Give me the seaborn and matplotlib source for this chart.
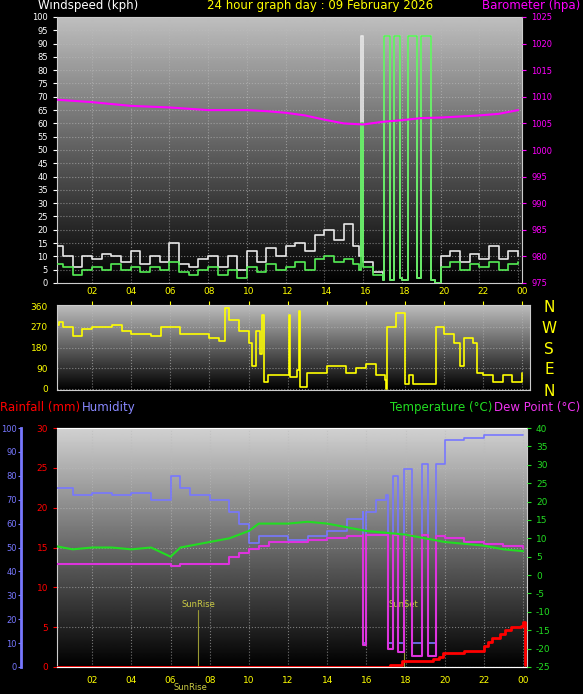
import numpy as np
import matplotlib
matplotlib.use("Agg")
import matplotlib.pyplot as plt
import seaborn as sns

# ---------------- data ----------------
hrs = [0, 0.5, 1, 1.5, 2, 2.5, 3, 3.5, 4, 4.5, 5, 5.5, 6, 6.5, 7, 7.5, 8, 8.5, 9, 9.5,
       10, 10.5, 11, 11.5, 12, 12.5, 13, 13.5, 14, 14.5, 15, 15.5]
wind_avg = [7, 6, 3, 5, 6, 5, 7, 5, 6, 4, 6, 5, 8, 4, 3, 5, 6, 3, 5, 2,
            6, 4, 7, 5, 6, 8, 5, 9, 10, 8, 9, 7]
wind_gust = [14, 10, 6, 10, 9, 11, 10, 8, 12, 7, 10, 8, 15, 7, 6, 9, 10, 6, 10, 5,
             12, 8, 13, 10, 14, 15, 12, 18, 20, 16, 22, 14]
# spike section (step data)
hrs_spk = [15.8, 15.9, 16.0, 16.5, 17.0, 17.1, 17.4, 17.6, 17.9, 18.0, 18.3, 18.8, 19.0, 19.5, 19.7,
           20.0, 20.5, 21, 21.5, 22, 22.5, 23, 23.5, 24]
avg_spk = [5, 60, 6, 3, 1, 93, 1, 93, 2, 1, 93, 2, 93, 1, 0, 6, 8, 5, 7, 6, 8, 5, 7, 8]
gust_spk = [10, 93, 8, 4, 1, 93, 1, 93, 2, 1, 93, 2, 93, 1, 0, 10, 12, 8, 11, 9, 14, 9, 12, 10]

baro_hrs = [0, 2, 4, 6, 8, 10, 11, 12, 13, 14, 15, 16, 17, 18, 19, 20, 21, 22, 23, 24]
baro = [1009.5, 1009, 1008.3, 1008, 1007.5, 1007.5, 1007.3, 1007, 1006.5, 1005.7, 1005, 1004.8,
        1005.3, 1005.6, 1006, 1006.1, 1006.3, 1006.5, 1006.8, 1007.5]

dir_hrs = [0, 0.3, 0.5, 1, 1.5, 2, 3, 3.5, 4, 5, 5.5, 6, 6.5, 7, 8, 8.5, 8.8, 9, 9.5, 10, 10.2,
           10.4, 10.6, 10.7, 10.8, 11, 12, 12.05, 12.1, 12.5, 12.6, 12.65, 13, 14, 15, 15.5,
           16, 16.5, 17, 17.05, 17.1, 17.5, 17.55, 18, 18.2, 18.4, 19.5, 19.6, 20, 20.5, 20.8,
           21, 21.5, 21.7, 22, 22.5, 23, 23.5, 24]
direction = [280, 290, 270, 230, 260, 270, 280, 250, 240, 230, 270, 270, 240, 240, 220, 210,
             350, 300, 250, 200, 100, 250, 150, 320, 30, 60, 60, 320, 50, 80, 340, 10, 70, 100,
             70, 90, 110, 60, 40, 0, 270, 270, 330, 20, 60, 20, 20, 270, 240, 200, 100, 220, 200,
             70, 60, 30, 60, 30, 70]

th_hrs = [0, 1, 2, 3, 4, 5, 6, 6.5, 7, 8, 9, 9.5, 10, 10.5, 11, 12, 13, 14, 15, 15.8, 15.85,
          15.95, 16, 16.5, 17, 17.1, 17.3, 17.35, 17.5, 17.6, 17.8, 17.9, 18.3, 18.35, 18.8, 18.85,
          19.1, 19.15, 19.5, 19.55, 20, 21, 22, 23, 24]
humidity = [75, 72, 73, 72, 73, 70, 80, 75, 72, 70, 65, 60, 52, 55, 55, 53, 55, 57, 62, 65, 10,
            10, 65, 70, 72, 10, 10, 80, 80, 10, 10, 83, 83, 10, 10, 85, 85, 10, 10, 85, 95, 96, 97,
            97, 97]
dewpoint = [3, 3, 3, 3, 3, 3, 2.5, 3, 3, 3, 5, 6, 7, 8, 9, 9, 9.5, 10, 10.5, 11, -19,
            -19, 11, 11, 11, -20, -20, 11, 11, -21, -21, 11, 11, -22, -22, 11, 11, -22, -22, 10.5,
            10, 9, 8.5, 8, 7.5]
temp_hrs = [0, 1, 2, 3, 4, 5, 6, 6.5, 7, 8, 9, 9.5, 10, 10.5, 11, 12, 13, 14, 15, 16, 17, 18,
            19, 20, 21, 22, 23, 24]
temperature = [8, 7, 7.5, 7.5, 7, 7.5, 5, 7.5, 8, 9, 10, 11, 12, 14, 14, 14, 14.5, 14, 13, 12,
               11.5, 11, 10, 9, 8.5, 8, 7, 6.5]
rain_hrs = [0, 17.2, 17.8, 19.4, 19.7, 19.9, 21.0, 22.0, 22.2, 22.4, 22.8, 23.1, 23.4, 23.9, 24.0, 24.1]
rain = [0, 0.3, 0.8, 1.0, 1.3, 1.7, 2.0, 2.6, 3.2, 3.6, 4.2, 4.6, 5.0, 5.2, 5.6, 0.3]

hour_ticks = [2, 4, 6, 8, 10, 12, 14, 16, 18, 20, 22, 24]
hour_labels = ["02", "04", "06", "08", "10", "12", "14", "16", "18", "20", "22", "00"]
compass = ["N", "W", "S", "E", "N"]

# ---------------- figure ----------------
sns.set_style("dark")
plt.rcParams['font.family'] = ['DejaVu Sans']
plt.rcParams['axes.unicode_minus'] = False
W, H = 583, 694
fig = plt.figure(figsize=(W / 100, H / 100), dpi=100, facecolor="black")

def px_axes(x0, y0, x1, y1):
    return fig.add_axes([x0 / W, 1 - y1 / H, (x1 - x0) / W, (y1 - y0) / H])

def style(ax, top=0.75):
    grad = np.linspace(top, 0.0, 256).reshape(-1, 1)
    ax.imshow(grad, cmap="gray", vmin=0, vmax=1, aspect="auto", extent=[0, 1, 0, 1],
              transform=ax.transAxes, zorder=0)
    ax.set_facecolor("black")
    ax.grid(True, color="#bbbbbb", linestyle=":", linewidth=0.8, alpha=0.6)
    for s in ax.spines.values():
        s.set_color("#cccccc")
    ax.set_xlim(0.2, 24.2)
    ax.set_xticks(hour_ticks)
    ax.tick_params(colors="yellow", labelsize=6.5, length=3)

# panel 1 : wind + barometer
ax1 = px_axes(57, 17, 522, 283)
style(ax1)
ax1.set_ylim(0, 100)
ax1.set_yticks(range(0, 101, 5))
ax1.tick_params(axis="y", colors="white", labelsize=6)
ax1.set_xticklabels([])
gh = hrs + hrs_spk
ax1.plot(gh, wind_gust + gust_spk, color="#e8e8e8", lw=1.2, drawstyle="steps-post", zorder=3)
ax1.plot(gh, wind_avg + avg_spk, color="#55ee55", lw=1.2, drawstyle="steps-post", zorder=4)
ax1b = ax1.twinx()
ax1b.set_ylim(975, 1025)
ax1b.set_yticks(range(975, 1026, 5))
ax1b.tick_params(axis="y", colors="magenta", labelsize=6, length=3)
ax1b.plot(baro_hrs, baro, color="magenta", lw=1.5)
for s in ax1b.spines.values():
    s.set_visible(False)
fig.text(38 / W, 1 - 6 / H, "Windspeed (kph)", color="white", fontsize=8.5, va="center")
fig.text(320 / W, 1 - 6 / H, "24 hour graph day : 09 February 2026", color="yellow",
         fontsize=8.5, va="center", ha="center")
fig.text(580 / W, 1 - 6 / H, "Barometer (hpa)", color="magenta", fontsize=8.5, va="center", ha="right")

# panel 2 : wind direction
ax2 = px_axes(57, 305, 530, 390)
style(ax2)
ax2.set_ylim(-5, 365)
ax2.set_yticks([0, 90, 180, 270, 360])
ax2.set_xlim(0.2, 24.4)
ax2.xaxis.tick_top()
ax2.set_xticklabels(hour_labels)
ax2.plot(dir_hrs, direction, color="yellow", lw=1.2, drawstyle="steps-post")
for i, c in enumerate(compass):
    fig.text(549 / W, 1 - (307 + i * 21) / H, c, color="yellow", fontsize=11, ha="center", va="center")

# panel 3 : rain, humidity, temperature, dew point
ax3 = px_axes(57, 428, 527, 667)
style(ax3, top=0.82)
ax3.set_ylim(0, 30)
ax3.set_yticks(range(0, 31, 5))
ax3.tick_params(axis="y", colors="red")
ax3.set_xticklabels(hour_labels)
ax3.plot(rain_hrs, rain, color="red", lw=2, drawstyle="steps-post", zorder=6)
axh = ax3.twinx()
axh.spines["right"].set_visible(False)
axh.spines["left"].set_position(("outward", 26))
axh.spines["left"].set_color("#7777ff")
axh.spines["left"].set_linewidth(2)
axh.yaxis.set_label_position("left")
axh.yaxis.tick_left()
axh.set_ylim(0, 100)
axh.set_yticks(range(0, 101, 10))
axh.tick_params(axis="y", colors="#7777ff", labelsize=6, length=2, pad=1)
axh.plot(th_hrs, humidity, color="#7777ff", lw=1.2, drawstyle="steps-post", zorder=3)
axt = ax3.twinx()
axt.set_ylim(-25, 40)
axt.set_yticks(range(-25, 41, 5))
axt.tick_params(axis="y", colors="#22dd22", labelsize=6.5, length=3)
axt.plot(th_hrs, dewpoint, color="#dd33dd", lw=1.5, drawstyle="steps-post", zorder=4)
axt.plot(temp_hrs, temperature, color="#22dd22", lw=1.5, zorder=5)
for s in list(axt.spines.values()):
    s.set_visible(False)
for x, name, yy in [(7.4, "SunRise", 0.24), (17.9, "SunSet", 0.24)]:
    ax3.axvline(x, ymax=yy, color="#999933", lw=0.8)
    ax3.text(x, yy * 30 + 0.3, name, color="#cccc44", fontsize=6, ha="center")
ax3.text(7.0, -2.9, "SunRise", color="#cccc44", fontsize=6, ha="center", clip_on=False)
fig.text(0 / W, 1 - 408 / H, "Rainfall (mm)", color="red", fontsize=8.5, va="center")
fig.text(82 / W, 1 - 408 / H, "Humidity", color="#8888ff", fontsize=8.5, va="center")
fig.text(390 / W, 1 - 408 / H, "Temperature (°C)", color="#22dd22", fontsize=8.5, va="center")
fig.text(580 / W, 1 - 408 / H, "Dew Point (°C)", color="#ee33ee", fontsize=8.5, va="center", ha="right")

fig.savefig("out.png", dpi=100, facecolor="black")
